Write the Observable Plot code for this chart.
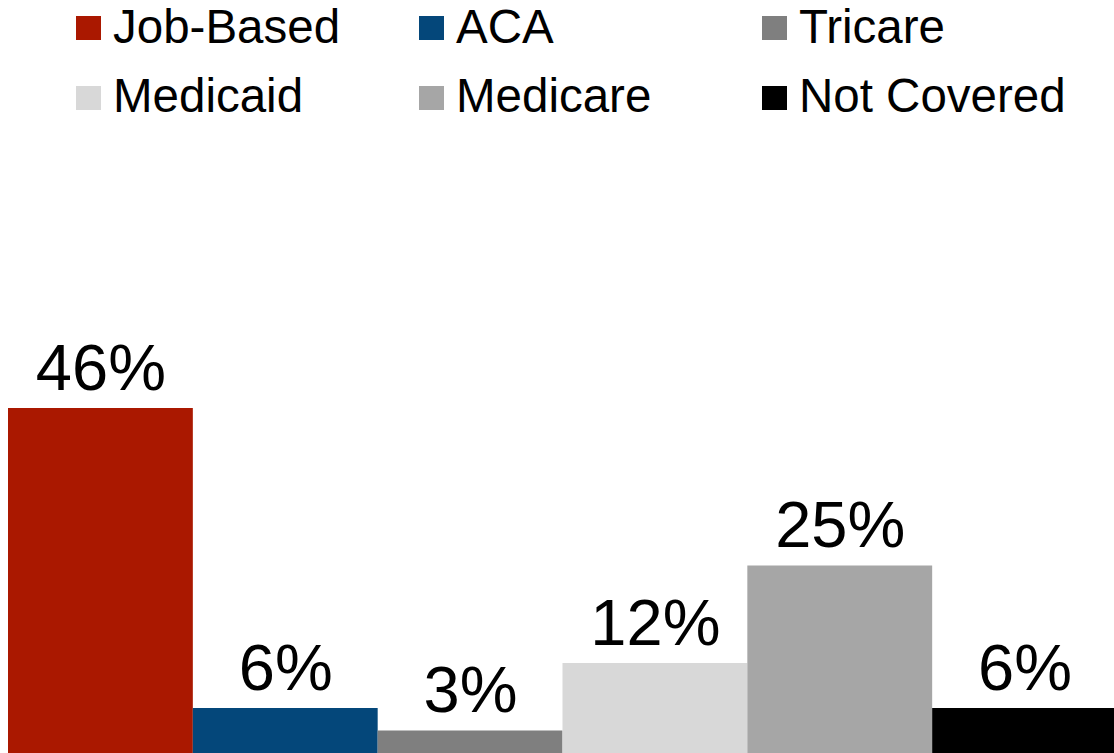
<!DOCTYPE html>
<html>
<head>
<meta charset="utf-8">
<script src="https://cdn.jsdelivr.net/npm/d3@7"></script>
<script src="https://cdn.jsdelivr.net/npm/@observablehq/plot@0.6"></script>
<style>
  html, body { margin: 0; padding: 0; background: #fff; overflow: hidden; width: 1114px; height: 753px; }
  #legend { position: relative; width: 1114px; height: 130px; font-family: "Liberation Sans", Arial, sans-serif; }
  .sw { position: absolute; width: 25px; height: 24px; }
  .lb { position: absolute; font-size: 47.5px; line-height: 47px; color: #000; white-space: nowrap; }
  #chart svg { display: block; }
</style>
</head>
<body>
<div id="legend"></div>
<div id="chart"></div>
<script>
const categories = ["Job-Based", "ACA", "Tricare", "Medicaid", "Medicare", "Not Covered"];
const values = [46, 6, 3, 12, 25, 6];
const labels = ["46%", "6%", "3%", "12%", "25%", "6%"];
const colors = ["#AA1800", "#04477A", "#7F7F7F", "#D8D8D8", "#A6A6A6", "#000000"];

const data = categories.map((c, i) => ({category: c, value: values[i], label: labels[i]}));

// Legend (HTML, above the SVG)
const legend = document.getElementById("legend");
categories.forEach((c, i) => {
  const col = i % 3, row = Math.floor(i / 3);
  const left = 76 + col * 343;
  const sw = document.createElement("div");
  sw.className = "sw";
  sw.style.left = left + "px";
  sw.style.top = (16 + row * 70) + "px";
  sw.style.background = colors[i];
  legend.appendChild(sw);
  const lb = document.createElement("div");
  lb.className = "lb";
  lb.style.left = (left + 37) + "px";
  lb.style.top = (3 + row * 69) + "px";
  lb.textContent = c;
  legend.appendChild(lb);
});

const chart = Plot.plot({
  width: 1117,
  height: 623,
  marginLeft: 8,
  marginRight: 0,
  marginTop: 173,
  marginBottom: 0,
  style: {maxWidth: "none", overflow: "visible", fontFamily: "'Liberation Sans', Arial, sans-serif", background: "#fff"},
  x: {domain: categories, padding: 0, round: false, axis: null},
  y: {domain: [0, 60], axis: null},
  color: {domain: categories, range: colors},
  marks: [
    Plot.barY(data, {x: "category", y: "value", fill: "category"}),
    Plot.text(data, {x: "category", y: "value", text: "label", lineAnchor: "bottom", dy: -19, fontSize: 65, fill: "#000"})
  ]
});
document.getElementById("chart").appendChild(chart);
</script>
</body>
</html>
